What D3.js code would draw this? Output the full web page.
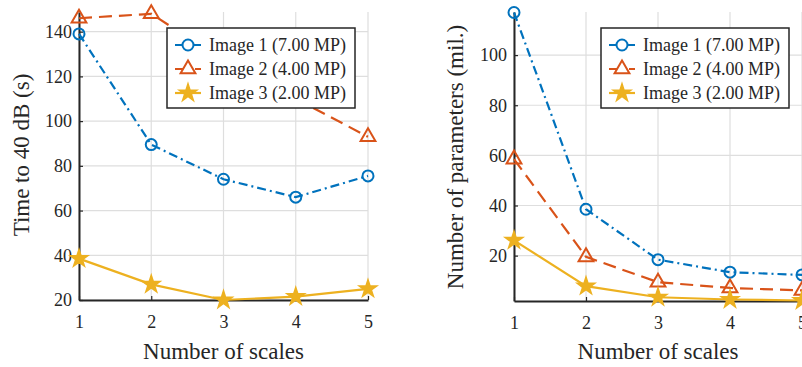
<!DOCTYPE html>
<html>
<head>
<meta charset="utf-8">
<script src="https://cdn.jsdelivr.net/npm/d3@7"></script>
<style>
  body { margin: 0; background: #fff; }
</style>
</head>
<body>
<div id="chart"></div>
<script>
// x values (number of scales)
const scales = [1, 2, 3, 4, 5];
const seriesNames = ["Image 1 (7.00 MP)", "Image 2 (4.00 MP)", "Image 3 (2.00 MP)"];

// left panel: time to 40 dB (s)
const timeImg1 = [139, 89.5, 74, 66, 75.5];
const timeImg2 = [146, 148, 127, 110, 93];
const timeImg3 = [38.5, 27, 20, 21.5, 25];
const timeTicks = [20, 40, 60, 80, 100, 120, 140];

// right panel: number of parameters (mil.)
const paramImg1 = [117, 38.5, 18.4, 13.4, 12.3];
const paramImg2 = [58.5, 19.5, 9.4, 7.1, 6.1];
const paramImg3 = [26.1, 7.8, 3.4, 2.5, 2.1];
const paramTicks = [20, 40, 60, 80, 100];

const width = 802;
const height = 367;
const serif = '"Liberation Serif", "DejaVu Serif", serif';

const colors = ["#0072BD", "#D95319", "#EDB120"];
const dashes = ["9,4,2,4", "13,7", null];
const symbols = [d3.symbolCircle, d3.symbolTriangle, d3.symbolStar];
const symSize = [95, 95, 95];

const svg = d3.select("#chart")
    .append("svg")
    .attr("width", width)
    .attr("height", height)
    .attr("viewBox", [0, 0, width, height])
    .attr("font-family", serif);

function drawPanel(opts) {
  const g = svg.append("g");
  const x = d3.scaleLinear().domain([1, 5]).range([opts.left, opts.right]);
  const y = d3.scaleLinear().domain(opts.yDomain).range([opts.bottom, opts.top]);

  // grid
  g.append("g").selectAll("line").data(scales).join("line")
      .attr("x1", d => x(d)).attr("x2", d => x(d))
      .attr("y1", opts.top).attr("y2", opts.bottom)
      .attr("stroke", "#dedede").attr("stroke-width", 1.2);
  g.append("g").selectAll("line").data(opts.ticks).join("line")
      .attr("x1", opts.left).attr("x2", opts.right)
      .attr("y1", d => y(d)).attr("y2", d => y(d))
      .attr("stroke", "#dedede").attr("stroke-width", 1.2);

  // axes (ticks pointing inward like matlab)
  const xAxis = g.append("g")
      .attr("transform", `translate(0,${opts.bottom})`)
      .call(d3.axisBottom(x).tickValues(scales).tickFormat(d3.format("d"))
        .tickSizeInner(-4).tickSizeOuter(0).tickPadding(15));
  const yAxis = g.append("g")
      .attr("transform", `translate(${opts.left},0)`)
      .call(d3.axisLeft(y).tickValues(opts.ticks).tickFormat(d3.format("d"))
        .tickSizeInner(-4).tickSizeOuter(0).tickPadding(7));
  [xAxis, yAxis].forEach(a => {
    a.attr("font-family", serif).attr("font-size", 18);
    a.select(".domain").attr("stroke", "#262626").attr("stroke-width", 2);
    a.selectAll(".tick line").attr("stroke", "#262626").attr("stroke-width", 1.2);
    a.selectAll("text").attr("fill", "#262626");
  });

  // series
  const line = d3.line().x((d, i) => x(scales[i])).y(d => y(d));
  opts.series.forEach((vals, k) => {
    g.append("path")
      .datum(vals)
      .attr("d", line)
      .attr("fill", "none")
      .attr("stroke", colors[k])
      .attr("stroke-width", 2.2)
      .attr("stroke-dasharray", dashes[k]);
    g.append("g").selectAll("path").data(vals).join("path")
      .attr("transform", (d, i) => `translate(${x(scales[i])},${y(d)})`)
      .attr("d", d3.symbol(symbols[k], symSize[k]))
      .attr("fill", k == 2 ? colors[k] : "none")
      .attr("stroke", colors[k])
      .attr("stroke-width", k == 2 ? 1.5 : 2);
  });

  // legend
  const lg = g.append("g").attr("transform", `translate(${opts.legX},${opts.legY})`);
  lg.append("rect")
    .attr("width", 188).attr("height", 80)
    .attr("fill", "#fff").attr("stroke", "#262626").attr("stroke-width", 1.5);
  seriesNames.forEach((name, k) => {
    const cy = 17 + k * 24;
    lg.append("line")
      .attr("x1", 8).attr("x2", 34).attr("y1", cy).attr("y2", cy)
      .attr("stroke", colors[k]).attr("stroke-width", 2.2)
      .attr("stroke-dasharray", dashes[k]);
    lg.append("path")
      .attr("transform", `translate(21,${cy})`)
      .attr("d", d3.symbol(symbols[k], symSize[k]))
      .attr("fill", k == 2 ? colors[k] : "#fff")
      .attr("stroke", colors[k]).attr("stroke-width", k == 2 ? 1.5 : 2);
    lg.append("text")
      .attr("x", 42).attr("y", cy + 6)
      .attr("font-size", 18)
      .attr("fill", "#262626")
      .text(name);
  });

  // axis labels
  g.append("text")
    .attr("x", (opts.left + opts.right) / 2).attr("y", 359)
    .attr("text-anchor", "middle").attr("font-size", 23)
    .attr("fill", "#262626")
    .text("Number of scales");
  g.append("text")
    .attr("transform", `translate(${opts.yLabelX},${opts.yLabelY}) rotate(-90)`)
    .attr("text-anchor", "middle").attr("font-size", 23)
    .attr("fill", "#262626")
    .text(opts.yLabel);
}

drawPanel({
  left: 79, right: 368, top: 12, bottom: 300,
  yDomain: [20, 148.8], ticks: timeTicks,
  series: [timeImg1, timeImg2, timeImg3],
  legX: 167, legY: 28,
  yLabel: "Time to 40 dB (s)", yLabelX: 29, yLabelY: 155
});

drawPanel({
  left: 514, right: 802, top: 12, bottom: 301,
  yDomain: [1.9, 117.2], ticks: paramTicks,
  series: [paramImg1, paramImg2, paramImg3],
  legX: 601, legY: 28,
  yLabel: "Number of parameters (mil.)", yLabelX: 463, yLabelY: 157
});
</script>
</body>
</html>
